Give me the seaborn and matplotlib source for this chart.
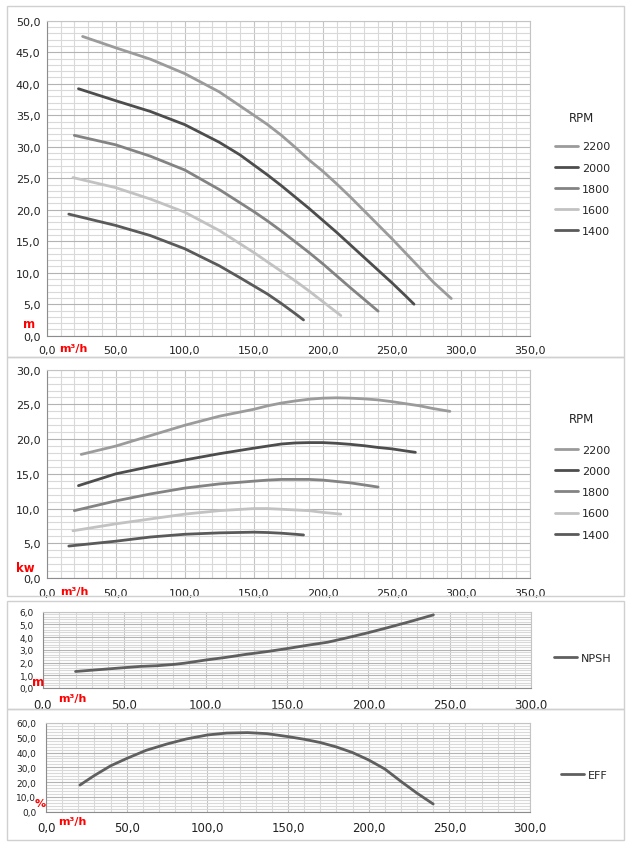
import matplotlib
matplotlib.use("Agg")
import matplotlib.pyplot as plt
import seaborn as sns
import pandas as pd
from matplotlib.ticker import MultipleLocator, FuncFormatter
from matplotlib.patches import Rectangle

# ---------------- data ----------------
rpm_labels = ["2200", "2000", "1800", "1600", "1400"]
rpm_colors = ["#9b9b9b", "#4d4d4d", "#838383", "#c2c2c2", "#5a5a5a"]

# Head curves (m) vs flow (m3/h)
q_h_2200 = [26, 50, 75, 100, 125, 150, 160, 170, 180, 190, 200, 210, 220, 230, 240, 250, 260, 270, 280, 293]
h_2200 = [47.5, 45.7, 43.9, 41.6, 38.7, 35.0, 33.5, 31.8, 29.9, 27.9, 26.1, 24.1, 22.0, 19.8, 17.6, 15.4, 13.1, 10.8, 8.5, 5.9]
q_h_2000 = [23, 50, 75, 100, 125, 140, 150, 160, 170, 180, 190, 200, 210, 220, 230, 240, 250, 260, 266]
h_2000 = [39.2, 37.3, 35.6, 33.5, 30.7, 28.7, 27.1, 25.5, 23.8, 22.0, 20.2, 18.3, 16.4, 14.4, 12.4, 10.4, 8.4, 6.3, 5.0]
q_h_1800 = [20, 50, 75, 100, 125, 140, 150, 160, 170, 180, 190, 200, 210, 220, 230, 240]
h_1800 = [31.8, 30.3, 28.5, 26.3, 23.2, 21.1, 19.7, 18.2, 16.6, 14.9, 13.2, 11.4, 9.5, 7.6, 5.75, 3.9]
q_h_1600 = [19, 50, 75, 100, 125, 140, 150, 160, 170, 180, 190, 200, 213]
h_1600 = [25.1, 23.5, 21.7, 19.6, 16.7, 14.6, 13.2, 11.7, 10.2, 8.7, 7.1, 5.4, 3.2]
q_h_1400 = [16, 50, 75, 100, 125, 140, 150, 160, 170, 180, 186]
h_1400 = [19.3, 17.5, 15.9, 13.8, 11.1, 9.2, 7.9, 6.6, 5.1, 3.5, 2.5]

# Power curves (kW) vs flow
q_p_2200 = [25, 50, 75, 100, 125, 150, 160, 170, 180, 190, 200, 210, 220, 230, 240, 250, 260, 270, 280, 292]
p_2200 = [17.8, 19.0, 20.5, 22.0, 23.3, 24.3, 24.8, 25.2, 25.5, 25.75, 25.9, 25.95, 25.9, 25.8, 25.65, 25.4, 25.1, 24.8, 24.4, 24.0]
q_p_2000 = [23, 50, 75, 100, 125, 150, 160, 170, 180, 190, 200, 210, 220, 230, 240, 250, 260, 267]
p_2000 = [13.3, 15.0, 16.05, 17.0, 17.9, 18.7, 19.0, 19.3, 19.45, 19.5, 19.5, 19.4, 19.25, 19.05, 18.8, 18.6, 18.3, 18.1]
q_p_1800 = [20, 50, 75, 100, 125, 150, 160, 170, 180, 190, 200, 210, 220, 230, 240]
p_1800 = [9.7, 11.1, 12.1, 12.95, 13.55, 13.95, 14.1, 14.2, 14.2, 14.2, 14.1, 13.9, 13.7, 13.4, 13.1]
q_p_1600 = [19, 50, 75, 100, 125, 150, 160, 170, 180, 190, 200, 213]
p_1600 = [6.8, 7.8, 8.5, 9.2, 9.7, 10.0, 10.0, 9.9, 9.8, 9.7, 9.45, 9.2]
q_p_1400 = [16, 50, 75, 100, 125, 150, 160, 170, 180, 186]
p_1400 = [4.6, 5.3, 5.9, 6.3, 6.5, 6.6, 6.55, 6.45, 6.3, 6.2]

# NPSH (m) vs flow
q_npsh = [20, 30, 40, 50, 60, 70, 80, 87, 100, 112, 125, 137, 150, 162, 175, 187, 200, 212, 225, 240]
npsh = [1.3, 1.4, 1.5, 1.6, 1.7, 1.75, 1.85, 1.95, 2.2, 2.4, 2.65, 2.85, 3.1, 3.35, 3.6, 3.95, 4.35, 4.75, 5.2, 5.75]

# Efficiency (%) vs flow
q_eff = [21, 30, 40, 50, 62, 75, 87, 100, 112, 125, 137, 150, 160, 170, 180, 190, 200, 210, 220, 230, 240]
eff = [18.0, 24.5, 31.0, 36.0, 41.5, 45.8, 49.2, 51.9, 53.2, 53.5, 52.8, 50.8, 49.0, 46.8, 43.8, 40.0, 35.0, 28.9, 20.5, 12.5, 5.2]

head_q = [q_h_2200, q_h_2000, q_h_1800, q_h_1600, q_h_1400]
head_v = [h_2200, h_2000, h_1800, h_1600, h_1400]
pow_q = [q_p_2200, q_p_2000, q_p_1800, q_p_1600, q_p_1400]
pow_v = [p_2200, p_2000, p_1800, p_1600, p_1400]

# ---------------- style ----------------
sns.set_style("white")
plt.rcParams["font.family"] = ["DejaVu Sans"]

W, H = 640, 854
fig = plt.figure(figsize=(W / 100, H / 100), dpi=100)
fig.patch.set_facecolor("white")


def px_axes(l, t, r, b):
    return fig.add_axes([l / W, 1 - b / H, (r - l) / W, (b - t) / H])


fmt = FuncFormatter(lambda v, p: f"{v:.1f}".replace(".", ","))


def style_axes(ax, xmax, ymax, ymaj, ymin, ysize, xsize=8, ypad=1.5):
    ax.set_xlim(0, xmax)
    ax.set_ylim(0, ymax)
    ax.xaxis.set_major_locator(MultipleLocator(50))
    ax.xaxis.set_minor_locator(MultipleLocator(10))
    ax.yaxis.set_major_locator(MultipleLocator(ymaj))
    ax.yaxis.set_minor_locator(MultipleLocator(ymin))
    ax.xaxis.set_major_formatter(fmt)
    ax.yaxis.set_major_formatter(fmt)
    ax.grid(which="minor", color="#d9d9d9", linewidth=0.8)
    ax.grid(which="major", axis="y", color="#b3b3b3", linewidth=0.8)
    ax.grid(which="major", axis="x", color="#c4c4c4", linewidth=0.8)
    ax.set_axisbelow(True)
    for s in ["top", "right"]:
        ax.spines[s].set_color("#c4c4c4")
        ax.spines[s].set_linewidth(0.8)
    for s in ["left", "bottom"]:
        ax.spines[s].set_color("#8c8c8c")
        ax.spines[s].set_linewidth(0.8)
    ax.tick_params(which="major", axis="both", direction="out", length=3,
                   color="#8c8c8c", width=0.8)
    ax.tick_params(which="minor", length=0)
    ax.tick_params(axis="y", labelsize=ysize, pad=ypad, labelcolor="#222222")
    ax.tick_params(axis="x", labelsize=xsize, pad=4, labelcolor="#222222")
    ax.set_xlabel("")
    ax.set_ylabel("")


def multi_df(qs, vs):
    rows = []
    for lab, q, v in zip(rpm_labels, qs, vs):
        for a, b in zip(q, v):
            rows.append({"Q": a, "V": b, "RPM": lab})
    return pd.DataFrame(rows)


def legend_at(ax, handles, labels, x, yc):
    ax.legend(handles, labels, loc="center left",
              bbox_to_anchor=(x / W, 1 - yc / H), bbox_transform=fig.transFigure,
              frameon=False, fontsize=8, handlelength=2.1, handletextpad=0.3,
              labelspacing=1.0, borderpad=0, borderaxespad=0)


red = "#ff0000"
palette = dict(zip(rpm_labels, rpm_colors))
LW = 2.0

# chart-area borders
for (t, b) in [(7, 358), (358, 597), (602, 710), (710, 841)]:
    fig.patches.append(Rectangle((7 / W, 1 - b / H), (624 - 7) / W, (b - t) / H,
                                 transform=fig.transFigure, fill=False,
                                 edgecolor="#d0d0d0", linewidth=1.0))

# ---------------- panel 1: head ----------------
ax1 = px_axes(46.7, 21.7, 530, 336.7)
sns.lineplot(data=multi_df(head_q, head_v), x="Q", y="V", hue="RPM",
             hue_order=rpm_labels, palette=palette, sort=False, estimator=None,
             linewidth=LW, legend=False, ax=ax1)
style_axes(ax1, 350, 50, 5, 1, 8)
legend_at(ax1, ax1.get_lines()[:5], rpm_labels, 555, 189.7)
fig.text(582 / W, 1 - 119 / H, "RPM", ha="center", va="center", fontsize=8.5)
fig.text(29 / W, 1 - 325 / H, "m", color=red, fontweight="bold", fontsize=8.5,
         ha="center", va="center")
fig.text(73 / W, 1 - 349 / H, "m³/h", color=red, fontweight="bold", fontsize=8,
         ha="center", va="center")

# ---------------- panel 2: power ----------------
ax2 = px_axes(46.7, 370.7, 530, 579)
sns.lineplot(data=multi_df(pow_q, pow_v), x="Q", y="V", hue="RPM",
             hue_order=rpm_labels, palette=palette, sort=False, estimator=None,
             linewidth=LW, legend=False, ax=ax2)
style_axes(ax2, 350, 30, 5, 1, 8)
legend_at(ax2, ax2.get_lines()[:5], rpm_labels, 555, 493.3)
fig.text(582 / W, 1 - 420 / H, "RPM", ha="center", va="center", fontsize=8.5)
fig.text(25 / W, 1 - 569 / H, "kw", color=red, fontweight="bold", fontsize=8.5,
         ha="center", va="center")
fig.text(74 / W, 1 - 592.5 / H, "m³/h", color=red, fontweight="bold", fontsize=8,
         ha="center", va="center")

# ---------------- panel 3: NPSH ----------------
ax3 = px_axes(43, 612.7, 531, 689)
sns.lineplot(x=q_npsh, y=npsh, color="#5f5f5f", linewidth=LW, sort=False,
             estimator=None, ax=ax3, label="NPSH")
style_axes(ax3, 300, 6, 1, 0.2, 6.5, xsize=8.5, ypad=3.5)
ax3.legend().remove()
legend_at(ax3, ax3.get_lines()[:1], ["NPSH"], 554, 659)
fig.text(38 / W, 1 - 683 / H, "m", color=red, fontweight="bold", fontsize=8.5,
         ha="center", va="center")
fig.text(72 / W, 1 - 699.5 / H, "m³/h", color=red, fontweight="bold", fontsize=8,
         ha="center", va="center")

# ---------------- panel 4: EFF ----------------
ax4 = px_axes(46, 724, 530, 812.7)
sns.lineplot(x=q_eff, y=eff, color="#5f5f5f", linewidth=LW, sort=False,
             estimator=None, ax=ax4, label="EFF")
style_axes(ax4, 300, 60, 10, 2, 6.5, xsize=8.5, ypad=4)
ax4.legend().remove()
legend_at(ax4, ax4.get_lines()[:1], ["EFF"], 561, 776)
fig.text(40 / W, 1 - 804.5 / H, "%", color=red, fontweight="bold", fontsize=8,
         ha="center", va="center")
fig.text(72 / W, 1 - 822 / H, "m³/h", color=red, fontweight="bold", fontsize=8,
         ha="center", va="center")

fig.savefig("out.png", dpi=100, facecolor="white")
